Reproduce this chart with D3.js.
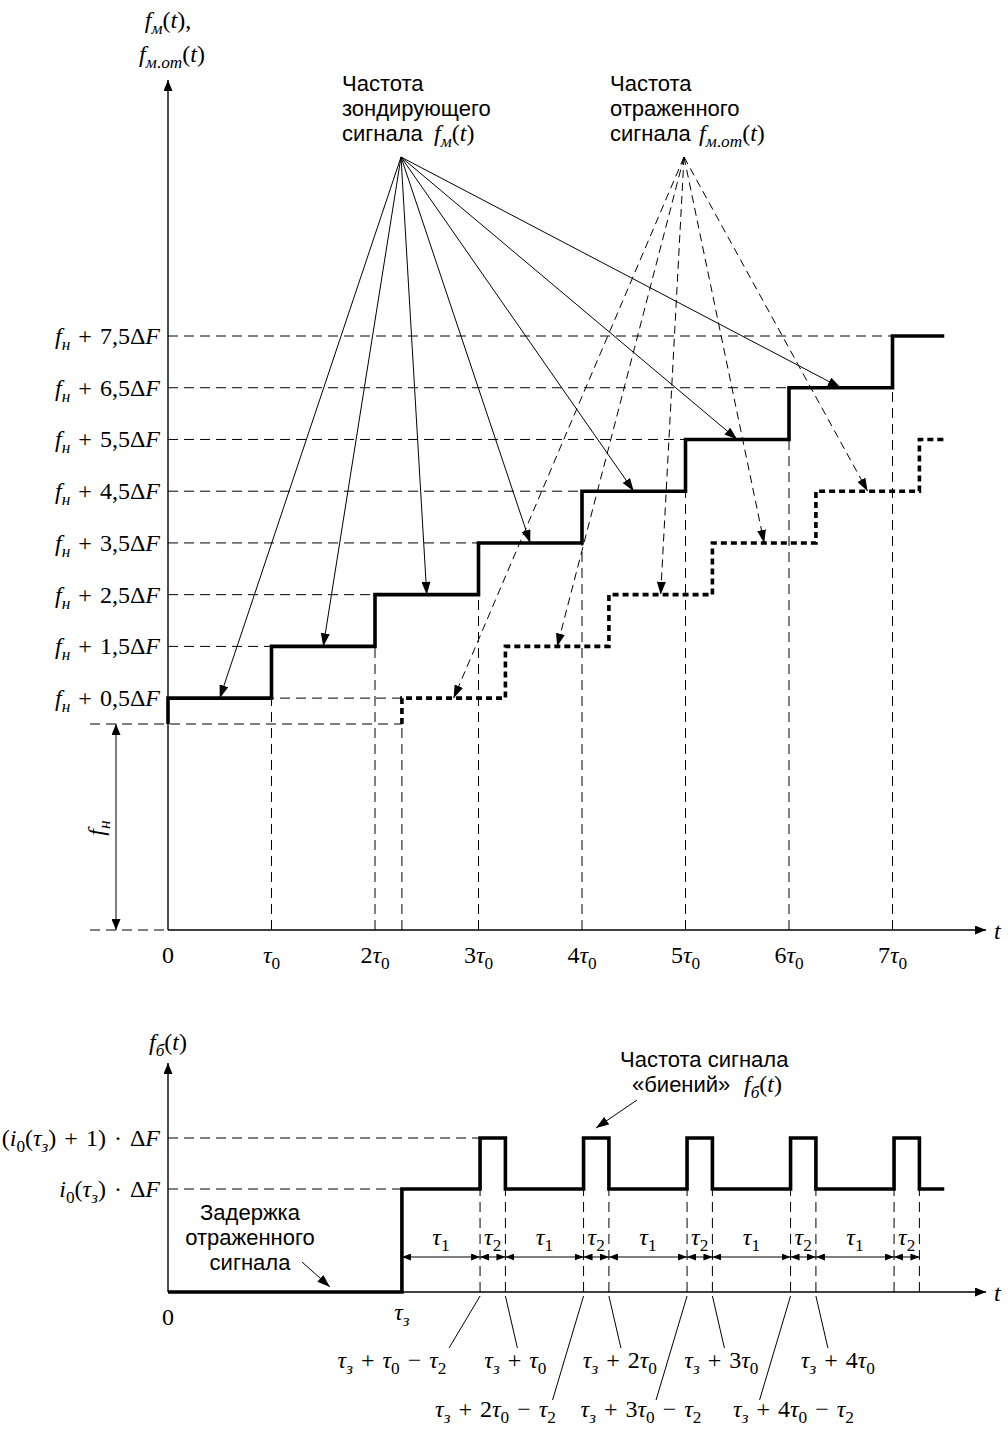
<!DOCTYPE html>
<html lang="ru">
<head>
    <meta charset="UTF-8">
    <title>Частота зондирующего и отраженного сигналов</title>
    <script src="https://d3js.org/d3.v7.min.js"></script>
    <style>
        body { margin: 0; background: #fff; }
        .sans { font-family: "Liberation Sans", Arial, sans-serif; font-size: 22px; fill: #000; }
        .math { font-family: "Liberation Serif", "Times New Roman", serif; font-size: 24px; fill: #000; }
        .grid { stroke: #000; stroke-width: 1; stroke-dasharray: 10 6; fill: none; }
        .axis { stroke: #000; stroke-width: 1.4; fill: none; }
        .step { stroke: #000; stroke-width: 3.6; fill: none; stroke-linejoin: miter; }
        .refl { stroke: #000; stroke-width: 3.6; fill: none; stroke-dasharray: 6 4; }
        .note { stroke: #000; stroke-width: 1; fill: none; }
        .noteDash { stroke: #000; stroke-width: 1; fill: none; stroke-dasharray: 8 5; }
    </style>
</head>
<body>
<svg id="chart" width="1008" height="1429"></svg>
<script>

// upper chart: frequency steps, in units of dF above f_n, time in units of tau0
var levels = [0.5, 1.5, 2.5, 3.5, 4.5, 5.5, 6.5, 7.5];
var levelLabels = ['f_н + 0,5ΔF', 'f_н + 1,5ΔF', 'f_н + 2,5ΔF', 'f_н + 3,5ΔF',
                   'f_н + 4,5ΔF', 'f_н + 5,5ΔF', 'f_н + 6,5ΔF', 'f_н + 7,5ΔF'];
var periods = [0, 1, 2, 3, 4, 5, 6, 7];
var periodLabels = ['0', 'τ_0', '2τ_0', '3τ_0', '4τ_0', '5τ_0', '6τ_0', '7τ_0'];
var tEnd = 7.5;
var delay = 2.26;
var reflLevels = [0.5, 1.5, 2.5, 3.5, 4.5, 5.5];

// lower chart: beat frequency
var tau2 = 0.245;
var beatCycles = [1, 2, 3, 4, 5];
var beatLevels = [1, 2];
var beatLevelLabels = ['i_0(τ_з) · ΔF', '(i_0(τ_з) + 1) · ΔF'];
var riseLabels = ['τ_з + τ_0 − τ_2', 'τ_з + 2τ_0 − τ_2', 'τ_з + 3τ_0 − τ_2', 'τ_з + 4τ_0 − τ_2'];
var fallLabels = ['τ_з + τ_0', 'τ_з + 2τ_0', 'τ_з + 3τ_0', 'τ_з + 4τ_0'];


var svg = d3.select('#chart');
var defs = svg.append('defs');

function addMarker(id, w, h, orient) {
    defs.append('marker')
        .attr('id', id)
        .attr('viewBox', '0 0 ' + w + ' ' + h)
        .attr('refX', w).attr('refY', h / 2)
        .attr('markerWidth', w).attr('markerHeight', h)
        .attr('markerUnits', 'userSpaceOnUse')
        .attr('orient', orient || 'auto')
        .append('path')
        .attr('d', 'M0,0L' + w + ',' + (h / 2) + 'L0,' + h + 'Z')
        .attr('fill', '#000').attr('stroke', 'none');
}
addMarker('head', 13, 9);
addMarker('axisHead', 11, 9);
addMarker('dimHead', 9, 7, 'auto-start-reverse');

function seg(g, x1, y1, x2, y2, cls) {
    return g.append('line')
        .attr('x1', x1).attr('y1', y1)
        .attr('x2', x2).attr('y2', y2)
        .attr('class', cls);
}

// small formula renderer: "_x" or "_{xy}" is a subscript,
// latin / greek / cyrillic lower-case letters are italic
function mathText(g, str, x, y, anchor) {
    var fs = 24;
    var t = g.append('text').attr('class', 'math')
        .attr('x', x).attr('y', y)
        .attr('text-anchor', anchor || 'start');
    str = str.replace(/ /g, '\u2004');   // a bit wider spacing round operators
    var chars = [];
    var i = 0;
    while (i < str.length) {
        var sub = false, chunk;
        if (str[i] === '_') {
            sub = true; i++;
            if (str[i] === '{') {
                var j = str.indexOf('}', i);
                chunk = str.slice(i + 1, j); i = j + 1;
            } else { chunk = str[i]; i++; }
        } else { chunk = str[i]; i++; }
        for (var k = 0; k < chunk.length; k++) {
            var c = chunk[k];
            chars.push({ c: c, sub: sub, it: /[A-Za-zα-ωа-яё]/.test(c) });
        }
    }
    var runs = [];
    chars.forEach(function (d) {
        var last = runs[runs.length - 1];
        if (last && last.sub === d.sub && last.it === d.it) last.text += d.c;
        else runs.push({ text: d.c, sub: d.sub, it: d.it });
    });
    var shift = 0;
    runs.forEach(function (r) {
        var ts = t.append('tspan').text(r.text)
            .style('font-style', r.it ? 'italic' : 'normal');
        var target = r.sub ? 0.25 * fs : 0;
        if (target !== shift) ts.attr('dy', target - shift);
        shift = target;
        if (r.sub) ts.style('font-size', (0.72 * fs) + 'px');
    });
    return t;
}

function sansLines(g, lines, x, y, anchor) {
    lines.forEach(function (s, i) {
        g.append('text').attr('class', 'sans')
            .attr('x', x).attr('y', y + i * 25)
            .attr('text-anchor', anchor || 'start')
            .text(s);
    });
}

// ---------------- upper chart ----------------
var x = d3.scaleLinear().domain([0, tEnd]).range([168, 944.25]);
var y = d3.scaleLinear().domain([0, 7.5]).range([724, 336]);
var yAxisTop = 930;   // time axis (frequency axis is broken below f_n)
var upper = svg.append('g');

// dashed guides
levels.forEach(function (v, i) {
    var end = i === 0 ? x(delay) : x(periods[i]);
    seg(upper, x(0), y(v), end, y(v), 'grid');
});
seg(upper, 90, y(0), x(delay), y(0), 'grid');
seg(upper, 90, yAxisTop, x(0), yAxisTop, 'grid');
periods.slice(1).forEach(function (p, i) {
    seg(upper, x(p), yAxisTop, x(p), y(levels[i]), 'grid');
});
seg(upper, x(delay), yAxisTop, x(delay), y(0), 'grid');

// axes
seg(upper, x(0), yAxisTop, x(0), 80, 'axis').attr('marker-end', 'url(#axisHead)');
seg(upper, x(0), yAxisTop, 986, yAxisTop, 'axis').attr('marker-end', 'url(#axisHead)');
seg(upper, 116, (y(0) + yAxisTop) / 2, 116, y(0), 'note').attr('marker-end', 'url(#axisHead)');
seg(upper, 116, (y(0) + yAxisTop) / 2, 116, yAxisTop, 'note').attr('marker-end', 'url(#axisHead)');

// steps
var stepLine = d3.line()
    .x(function (d) { return x(d[0]); })
    .y(function (d) { return y(d[1]); })
    .curve(d3.curveStepAfter);

var txPts = [[0, 0]].concat(levels.map(function (v, i) { return [periods[i], v]; }))
    .concat([[tEnd, levels[levels.length - 1]]]);
var rxPts = [[delay, 0]].concat(reflLevels.map(function (v, i) { return [delay + i, v]; }))
    .concat([[tEnd, reflLevels[reflLevels.length - 1]]]);

upper.append('path').datum(txPts).attr('class', 'step').attr('d', stepLine);
upper.append('path').datum(rxPts).attr('class', 'refl').attr('d', stepLine);

// annotation arrows
var srcTx = [401, 157], srcRx = [684, 157];
levels.slice(0, 7).forEach(function (v, i) {
    seg(upper, srcTx[0], srcTx[1], x(i + 0.5), y(v), 'note').attr('marker-end', 'url(#head)');
});
reflLevels.slice(0, 5).forEach(function (v, i) {
    seg(upper, srcRx[0], srcRx[1], x(delay + i + 0.5), y(v), 'noteDash').attr('marker-end', 'url(#head)');
});

// labels
levels.forEach(function (v, i) {
    mathText(upper, levelLabels[i], 160, y(v) + 8, 'end');
});
periods.forEach(function (p, i) {
    mathText(upper, periodLabels[i], x(p), 963, 'middle');
});
mathText(upper, 'f_м(t),', 168, 28, 'middle');
mathText(upper, 'f_{м.от}(t)', 172, 62, 'middle');
mathText(upper, 't', 994, 939, 'start');
mathText(upper, 'f_н', 0, 0, 'middle').attr('transform', 'translate(104,828) rotate(-90)');

sansLines(upper, ['Частота', 'зондирующего', 'сигнала'], 342, 91);
mathText(upper, 'f_м(t)', 434, 141);
sansLines(upper, ['Частота', 'отраженного', 'сигнала'], 610, 91);
mathText(upper, 'f_{м.от}(t)', 699, 141);

// ---------------- lower chart ----------------
var yb = d3.scaleLinear().domain([0, 1, 2]).range([1292, 1189, 1138]);
var lower = svg.append('g');

var edges = [];
beatCycles.forEach(function (k) {
    edges.push({ t: delay + k - tau2, k: k, rise: true });
    edges.push({ t: delay + k, k: k, rise: false });
});

seg(lower, x(0), yb(2), x(edges[0].t), yb(2), 'grid');
seg(lower, x(0), yb(1), x(delay), yb(1), 'grid');
edges.forEach(function (e) {
    seg(lower, x(e.t), yb(0), x(e.t), yb(1), 'grid');
});

seg(lower, x(0), yb(0), x(0), 1063, 'axis').attr('marker-end', 'url(#axisHead)');
seg(lower, x(0), yb(0), 986, yb(0), 'axis').attr('marker-end', 'url(#axisHead)');

var beatLine = d3.line()
    .x(function (d) { return x(d[0]); })
    .y(function (d) { return yb(d[1]); })
    .curve(d3.curveStepAfter);
var beatPts = [[0, 0], [delay, 1]];
edges.forEach(function (e) { beatPts.push([e.t, e.rise ? 2 : 1]); });
beatPts.push([tEnd, 1]);
lower.append('path').datum(beatPts).attr('class', 'step').attr('d', beatLine);

// tau1 / tau2 dimension arrows
var bounds = [delay].concat(edges.map(function (e) { return e.t; }));
var dimY = 1257;
for (var i = 0; i < bounds.length - 1; i++) {
    seg(lower, x(bounds[i]), dimY, x(bounds[i + 1]), dimY, 'note')
        .attr('marker-start', 'url(#dimHead)')
        .attr('marker-end', 'url(#dimHead)');
    mathText(lower, i % 2 === 0 ? 'τ_1' : 'τ_2', (x(bounds[i]) + x(bounds[i + 1])) / 2, 1245, 'middle');
}

// edge call-outs
var riseDx = [-88, -88, -46, 3];
var fallDx = [10, 11, 9, 22];
edges.filter(function (e) { return e.k < 5; }).forEach(function (e) {
    var ex = x(e.t);
    if (e.rise) {
        var low = e.k > 1;
        seg(lower, ex, 1296, ex - 31, low ? 1400 : 1348, 'note');
        mathText(lower, riseLabels[e.k - 1], ex + riseDx[e.k - 1], low ? 1417 : 1368, 'middle');
    } else {
        seg(lower, ex, 1296, ex + 12, 1348, 'note');
        mathText(lower, fallLabels[e.k - 1], ex + fallDx[e.k - 1], 1368, 'middle');
    }
});

beatLevels.forEach(function (v, i) {
    mathText(lower, beatLevelLabels[i], 160, yb(v) + 8, 'end');
});
mathText(lower, '0', x(0), 1325, 'middle');
mathText(lower, 'τ_з', x(delay), 1320, 'middle');
mathText(lower, 't', 994, 1301, 'start');
mathText(lower, 'f_б(t)', 168, 1050, 'middle');

sansLines(lower, ['Задержка', 'отраженного', 'сигнала'], 250, 1220, 'middle');
seg(lower, 302, 1262, 330, 1287, 'note').attr('marker-end', 'url(#head)');

sansLines(lower, ['Частота сигнала'], 620, 1067);
sansLines(lower, ['«биений»'], 632, 1092);
mathText(lower, 'f_б(t)', 744, 1092);
seg(lower, 637, 1100, 596, 1128, 'note').attr('marker-end', 'url(#head)');

</script>
</body>
</html>
